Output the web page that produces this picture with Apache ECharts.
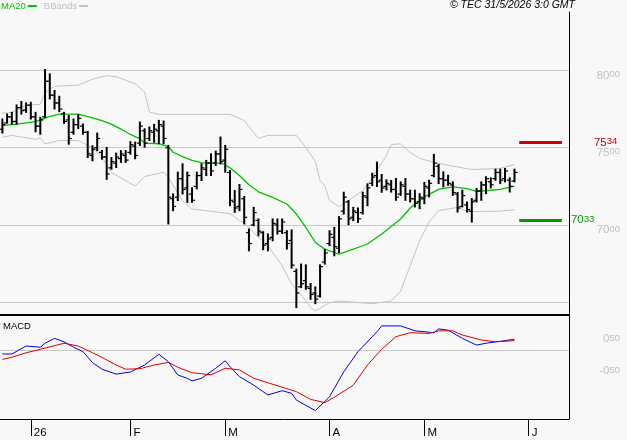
<!DOCTYPE html>
<html>
<head>
<meta charset="utf-8">
<script src="https://cdn.jsdelivr.net/npm/echarts@6.0.0/dist/echarts.min.js"></script>
<style>
  html, body { margin: 0; padding: 0; background: #f8f8f8; }
  #main { width: 627px; height: 440px; }
</style>
</head>
<body>
<div id="main"></div>
<script>
// slots on the time axis (trading days + a few empty future days)
var slotCount = 120;
var monthStarts = { 6: '26', 27: 'F', 47: 'M', 69: 'A', 89: 'M', 111: 'J' };

// daily bars
var opens = [7620,7660,7700,7670,7760,7745,7775,7700,7640,7700, 7930,7840,7790,7720,7680,7600,7650,7640,7600,7450,
  7500,7470,7440,7370,7400,7430,7450,7470,7510,7530, 7610,7560,7600,7610,7640,7500,7170,7180,7300,7240,
  7200,7250,7320,7360,7400,7400,7460,7420,7340,7150, 7120,7170,6950,7000,7030,6950,6880,6920,7000,6960,
  6950,6900,6700,6600,6640,6590,6560,6540,6760,6880, 6920,6850,7090,7150,7050,7080,7080,7180,7270,7320,
  7290,7250,7260,7230,7200,7250,7200,7170,7150,7170, 7240,7320,7380,7300,7290,7260,7200,7120,7130,7090,
  7160,7220,7260,7280,7300,7340,7300,7290,7285];
var highs = [7686,7718,7729,7777,7799,7790,7794,7729,7697,8006, 7978,7870,7833,7729,7708,7686,7714,7653,7606,7513,
  7595,7482,7502,7437,7465,7481,7481,7539,7536,7666, 7623,7634,7651,7677,7673,7515,7201,7342,7396,7342,
  7240,7342,7396,7418,7461,7478,7569,7515,7353,7223, 7262,7184,6974,7114,7039,6957,6942,7039,7039,7039,
  6963,6968,6714,6747,6742,6621,6599,6742,6842,6963, 6984,7054,7212,7158,7114,7110,7212,7266,7335,7407,
  7327,7292,7288,7301,7279,7301,7225,7225,7203,7275, 7290,7457,7392,7344,7322,7279,7210,7225,7149,7171,
  7236,7279,7312,7305,7361,7361,7366,7305,7361];
var lows = [7595,7660,7653,7653,7718,7729,7686,7604,7588,7697, 7816,7751,7734,7658,7523,7588,7625,7588,7437,7416,
  7481,7426,7296,7361,7372,7405,7405,7458,7429,7515, 7504,7547,7536,7526,7526,7007,7093,7158,7201,7147,
  7147,7234,7288,7320,7320,7385,7396,7342,7125,7082, 7093,7007,6833,6995,6930,6840,6833,6898,6942,6945,
  6844,6721,6465,6595,6584,6519,6491,6534,6747,6866, 6801,6822,7071,7002,7028,7017,7071,7125,7255,7249,
  7212,7227,7213,7160,7192,7160,7149,7117,7106,7138, 7182,7312,7268,7247,7257,7192,7084,7117,7084,7019,
  7149,7160,7203,7240,7290,7268,7279,7214,7279];
var closes = [7650,7700,7670,7760,7740,7775,7700,7640,7680,7930, 7840,7790,7750,7670,7560,7650,7690,7600,7460,7490,
  7560,7440,7330,7410,7440,7460,7420,7520,7450,7640, 7530,7610,7620,7650,7560,7180,7120,7300,7230,7320,
  7160,7320,7370,7400,7350,7460,7410,7490,7160,7110, 7230,7050,6880,7080,6960,6870,6910,7010,6960,7020,
  6880,6740,6560,6620,6600,6550,6520,6730,6820,6940, 6860,7040,7180,7040,7090,7040,7190,7240,7310,7280,
  7240,7270,7230,7180,7260,7200,7170,7140,7180,7250, 7270,7400,7300,7290,7270,7210,7110,7190,7100,7150,
  7220,7260,7300,7260,7340,7290,7350,7250,7340];

// indicator lines, read at [bar index, value]
var ma20 = [[0,7643],[3,7653],[7,7669],[10,7703],[12,7718],[16,7718],[18,7701],[21,7675],[23,7653],[25,7621],
  [27,7586],[29,7558],[30,7530],[33,7526],[35,7508],[36,7471],[38,7443],[40,7418],[42,7403],[46,7400],
  [47,7390],[48,7370],[50,7320],[52,7260],[54,7215],[57,7179],[60,7136],[62,7071],[64,6984],[66,6887],
  [68,6844],[71,6812],[73,6833],[77,6877],[80,6942],[84,7039],[86,7110],[89,7182],[92,7231],[95,7247],
  [98,7236],[100,7218],[103,7225],[105,7231],[108,7251]];
var bbUpper = [[0,7723],[2,7729],[5,7775],[8,7781],[9,7856],[11,7898],[16,7905],[19,7944],[22,7966],[24,7960],
  [28,7914],[30,7861],[31,7731],[33,7716],[41,7716],[48,7716],[51,7677],[53,7599],[54,7560],[56,7580],
  [62,7580],[64,7502],[66,7411],[67,7288],[68,7255],[69,7158],[71,7119],[73,7158],[76,7223],[78,7307],
  [81,7450],[82,7521],[84,7525],[86,7469],[88,7431],[92,7398],[99,7359],[105,7366],[108,7392]];
var bbLower = [[0,7567],[2,7580],[7,7554],[8,7564],[9,7525],[12,7547],[16,7547],[19,7499],[21,7437],[23,7340],
  [28,7252],[30,7314],[34,7342],[35,7307],[38,7158],[40,7103],[43,7093],[48,7073],[50,7028],[51,7015],
  [53,6950],[56,6866],[59,6736],[61,6619],[64,6508],[65,6465],[66,6443],[69,6497],[71,6508],[78,6491],
  [82,6508],[84,6573],[88,6898],[90,7021],[92,7093],[96,7114],[98,7086],[105,7090],[108,7099]];
var macdLine = [[0,-0.14],[2,-0.14],[5,0.20],[8,0.15],[9,0.32],[11,0.53],[13,0.38],[15,0.15],[17,-0.04],[19,-0.51],
  [21,-0.79],[24,-1.00],[27,-0.91],[30,-0.61],[33,-0.15],[35,-0.47],[37,-1.04],[39,-1.18],[40,-1.29],[42,-1.18],
  [45,-0.75],[47,-0.43],[48,-0.68],[50,-1.11],[53,-1.47],[56,-1.89],[59,-1.71],[61,-1.82],[62,-2.11],[66,-2.56],
  [69,-1.97],[72,-0.90],[75,-0.04],[79,0.81],[80,1.06],[84,1.06],[87,0.85],[91,0.77],[92,0.93],[94,0.88],
  [97,0.53],[100,0.24],[102,0.32],[106,0.43],[108,0.49]];
var signalLine = [[0,-0.37],[2,-0.28],[5,-0.09],[8,0.06],[13,0.32],[16,0.20],[20,-0.18],[24,-0.61],[26,-0.79],[29,-0.77],
  [32,-0.61],[35,-0.50],[37,-0.71],[40,-0.94],[44,-1.03],[47,-0.75],[50,-0.82],[53,-1.18],[59,-1.56],[62,-1.75],
  [65,-2.08],[68,-2.22],[70,-1.99],[74,-1.47],[77,-0.61],[80,0.06],[83,0.60],[86,0.77],[90,0.74],[92,0.85],
  [95,0.85],[97,0.67],[101,0.46],[104,0.38],[108,0.43]];

// price levels and axis ticks
var resistance = 7534;
var support = 7033;
var priceGrid = [6500, 7000, 7500, 8000];
var priceLabels = [7000, 7500, 8000];
var macdLabels = [0.5, -0.5];

var FONT = '"Liberation Sans", Arial, sans-serif';
var categories = [];
for (var i = 0; i < slotCount; i++) categories.push(String(i));
var ohlcRows = opens.map(function (o, i) { return [i, o, highs[i], lows[i], closes[i]]; });

// "7534" -> big "75" + small raised "34"
function splitNum(v) {
  var s = String(Math.round(v));
  return '{a|' + s.slice(0, 2) + '}{b|' + s.slice(2) + '}';
}
function richNum(color) {
  return {
    a: { fontSize: 11.5, lineHeight: 12, color: color, fontFamily: FONT },
    b: { fontSize: 9.5, lineHeight: 9, color: color, fontFamily: FONT, verticalAlign: 'top' },
    sp: { fontSize: 1, lineHeight: 10 },
    sp2: { fontSize: 1, lineHeight: 17 }
  };
}

function renderBar(params, api) {
  var i = api.value(0);
  var hi = api.coord([i, api.value(2)]);
  var lo = api.coord([i, api.value(3)]);
  var op = api.coord([i, api.value(1)]);
  var cl = api.coord([i, api.value(4)]);
  var x = hi[0];
  return {
    type: 'group',
    children: [
      { type: 'line', shape: { x1: x, y1: hi[1] - 0.5, x2: x, y2: lo[1] + 0.5 }, style: { stroke: '#000', lineWidth: 2 } },
      { type: 'line', shape: { x1: x - 3, y1: op[1], x2: x, y2: op[1] }, style: { stroke: '#000', lineWidth: 1.2 } },
      { type: 'line', shape: { x1: x, y1: cl[1], x2: x + 3, y2: cl[1] }, style: { stroke: '#000', lineWidth: 1.2 } }
    ]
  };
}

var myChart = echarts.init(document.getElementById('main'));

var option = {
  backgroundColor: '#f8f8f8',
  animation: false,
  title: [{
    text: '\u00a9 TEC 31/5/2026 3:0 GMT',
    right: 52, top: 0, padding: 0,
    textStyle: { fontSize: 10.5, fontStyle: 'italic', fontWeight: 'normal', color: '#000', fontFamily: FONT }
  }, {
    text: 'MACD',
    left: 3, top: 321, padding: 0,
    textStyle: { fontSize: 9.5, fontWeight: 'normal', color: '#000', fontFamily: FONT }
  }],
  legend: {
    left: 1, top: 1, padding: 0,
    align: 'right', icon: 'rect', itemWidth: 9, itemHeight: 2, itemGap: 7,
    selectedMode: false,
    textStyle: { fontSize: 9.5, fontFamily: FONT, padding: [0, -3, 0, 0] },
    data: [
      { name: 'MA20', textStyle: { color: '#00c000' } },
      { name: 'BBands', textStyle: { color: '#c0c0c0' } }
    ]
  },
  grid: [
    { left: 0, right: 58, top: 12, bottom: 125, outerBoundsMode: 'none', containLabel: false },
    { left: 0, right: 58, top: 316.5, bottom: 21, outerBoundsMode: 'none', containLabel: false }
  ],
  xAxis: [{
    type: 'category', gridIndex: 0, data: categories, boundaryGap: true,
    axisLine: { show: true, onZero: false, lineStyle: { color: '#000', width: 2 } },
    axisTick: { show: false }, axisLabel: { show: false }, splitLine: { show: false }
  }, {
    type: 'category', gridIndex: 1, data: categories, boundaryGap: true,
    axisLine: { show: true, onZero: false, lineStyle: { color: '#000', width: 1 } },
    axisTick: {
      show: true, alignWithLabel: true, length: 17,
      interval: function (idx) { return monthStarts[idx] !== undefined; },
      lineStyle: { color: '#000', width: 1 }
    },
    axisLabel: {
      show: true, margin: 8, align: 'left', padding: [0, 0, 0, 3],
      color: '#000', fontSize: 11.5, fontFamily: FONT,
      interval: function (idx) { return monthStarts[idx] !== undefined; },
      formatter: function (v, idx) { return monthStarts[idx] || ''; }
    },
    splitLine: { show: false }
  }],
  yAxis: [{
    type: 'value', gridIndex: 0, position: 'right',
    min: 6417.5, max: 8378.6,
    axisLine: { show: true, lineStyle: { color: '#000', width: 1 } },
    axisTick: { show: false },
    splitLine: { show: false },
    axisLabel: {
      customValues: priceLabels, margin: 51, align: 'right',
      formatter: function (v) { return '{sp| }\n' + splitNum(v); },
      rich: richNum('#c0c0c0')
    }
  }, {
    type: 'value', gridIndex: 1, position: 'right',
    min: -2.919, max: 1.462,
    axisLine: { show: true, lineStyle: { color: '#000', width: 1 } },
    axisTick: { show: false },
    splitLine: { show: false },
    axisLabel: {
      customValues: macdLabels, margin: 51, align: 'right',
      formatter: function (v) { return v > 0 ? '{a|0}{b|50}' : '{sp2| }\n{a|-0}{b|50}'; },
      rich: richNum('#c0c0c0')
    }
  }],
  series: [{
    name: 'BBands', type: 'line', xAxisIndex: 0, yAxisIndex: 0, z: 2,
    data: bbUpper, showSymbol: false, color: '#c4c4c4',
    lineStyle: { color: '#c4c4c4', width: 1 },
    markLine: {
      silent: true, symbol: 'none', z: 1, label: { show: false },
      lineStyle: { color: '#c8c8c8', width: 1, type: 'solid' },
      data: priceGrid.map(function (v) { return { yAxis: v }; })
    }
  }, {
    name: 'BBands', type: 'line', xAxisIndex: 0, yAxisIndex: 0, z: 2,
    data: bbLower, showSymbol: false, color: '#c4c4c4',
    lineStyle: { color: '#c4c4c4', width: 1 }
  }, {
    name: 'MA20', type: 'line', xAxisIndex: 0, yAxisIndex: 0, z: 3,
    data: ma20, showSymbol: false, color: '#00c000',
    lineStyle: { color: '#00c000', width: 1.3 }
  }, {
    name: 'Price', type: 'custom', xAxisIndex: 0, yAxisIndex: 0, z: 4,
    renderItem: renderBar,
    encode: { x: 0, y: [1, 2, 3, 4] },
    data: ohlcRows,
    markLine: {
      silent: true, symbol: 'none',
      data: [
        [{ coord: [109, resistance], lineStyle: { color: '#cc0000', width: 3, type: 'solid' },
           label: { show: true, position: 'end', distance: 32, formatter: splitNum(resistance), rich: richNum('#cc0000') } },
         { coord: [118, resistance] }],
        [{ coord: [109, support], lineStyle: { color: '#009900', width: 3, type: 'solid' },
           label: { show: true, position: 'end', distance: 9, formatter: splitNum(support), rich: richNum('#009900') } },
         { coord: [118, support] }]
      ]
    }
  }, {
    name: 'MACD', type: 'line', xAxisIndex: 1, yAxisIndex: 1, z: 3,
    data: macdLine, showSymbol: false,
    lineStyle: { color: '#0000ee', width: 1 },
    markLine: {
      silent: true, symbol: 'none', z: 1, label: { show: false },
      lineStyle: { color: '#c8c8c8', width: 1, type: 'solid' },
      data: [{ yAxis: 0 }]
    }
  }, {
    name: 'Signal', type: 'line', xAxisIndex: 1, yAxisIndex: 1, z: 3,
    data: signalLine, showSymbol: false,
    lineStyle: { color: '#dd0000', width: 1 }
  }]
};

myChart.setOption(option);
window.onresize = myChart.resize;
</script>
</body>
</html>
